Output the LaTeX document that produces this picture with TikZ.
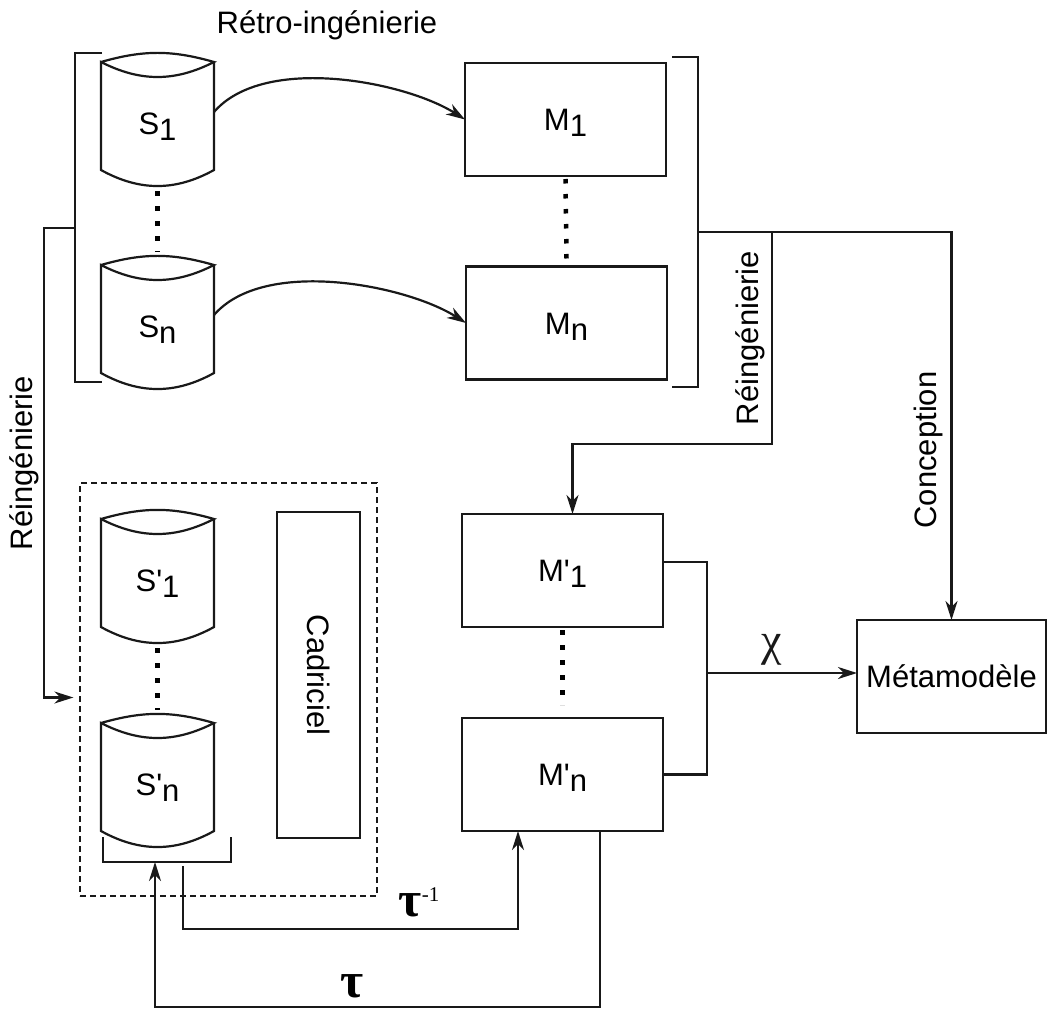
\documentclass[tikz,border=0pt]{standalone}
\usepackage{fontspec}
\setmainfont{Liberation Sans}
\newfontfamily\grk{Liberation Serif}
\usetikzlibrary{arrows.meta}

\newcommand{\lowix}[1]{\raisebox{-6pt}{#1}}
\newcommand{\prm}{\textquotesingle}
\newcommand{\drum}[1]{%
  \draw[wire] (#1.north west) to[bend left=16] (#1.north east)
    to[bend left=27] (#1.north west) -- ([yshift=14pt]#1.south west)
    to[bend right=29] ([yshift=14pt]#1.south east) -- (#1.north east);}

\tikzset{
  wire/.style={line width=2.2pt, black!90},
  conn/.style={wire, -{Stealth[length=19pt,width=12pt,inset=6pt]}},
  model/.style={draw, black!90, text=black, line width=2.2pt, minimum width=201pt, minimum height=113pt,
    inner sep=0pt, outer sep=0pt, text height=22pt, text depth=0pt},
  drumbody/.style={minimum width=113pt, minimum height=122pt, inner sep=0pt, outer sep=0pt,
    text height=22pt, text depth=0pt},
  dotrow/.style={black, line width=4.5pt, dash pattern=on 4.5pt off 10.5pt},
}

\begin{document}
\begin{tikzpicture}[x=1pt,y=-1pt,every node/.style={font=\fontsize{31}{36}\selectfont}]
  \useasboundingbox (0,0) rectangle (1049,1009);

  \node[drumbody] (S1) at (157.5,123) {S\lowix{1}};
  \node[drumbody] (Sn) at (157.5,326) {S\lowix{n}};
  \drum{S1} \drum{Sn}
  \draw[dotrow] ([yshift=-7pt]S1.south) -- ([yshift=13pt]Sn.north);

  \node[model] (M1) at (565.5,119.5) {M\lowix{1}};
  \node[model] (Mn) at (566.5,323) {M\lowix{n}};
  \draw[dotrow] ([yshift=-3pt]M1.south) -- ([yshift=8pt]Mn.north);

  \draw[wire] (102,53) -- (75,53) -- (75,382) -- (102,382);
  \coordinate (brkS) at (75,228);
  \draw[wire] (672,57) -- (698,57) -- (698,387) -- (672,387);
  \coordinate (brkM) at (698,232);

  \node (retro) at (327,25) {Rétro-ingénierie};
  \draw[conn] (S1.11) .. controls +(50,-58) and +(-60,-38) .. (M1.west);
  \draw[conn] (Sn.11) .. controls +(50,-58) and +(-60,-38) .. (Mn.west);

  \node[draw, black!90, dash pattern=on 6pt off 4pt, line width=1.3pt, minimum width=297pt, minimum height=413pt] (frame) at (228.5,689.5) {};
  \node[drumbody] (Sp1) at (157.5,580) {S\prm\lowix{1}};
  \node[drumbody] (Spn) at (157.5,784) {S\prm\lowix{n}};
  \drum{Sp1} \drum{Spn}
  \draw[dotrow] ([yshift=-7pt]Sp1.south) -- ([yshift=13pt]Spn.north);
  \node[draw, black!90, text=black, line width=2.2pt, rotate=-90, minimum width=326pt, minimum height=83pt] (cad) at (318.5,675) {Cadriciel};
  \draw[wire] (103,837) -- (103,862) -- (231,862) -- (231,837);
  \coordinate (tauin) at (155,862);
  \coordinate (tauout) at (183,866);

  \node[model] (Mp1) at (562.5,570.5) {M\prm\lowix{1}};
  \node[model] (Mpn) at (562.5,774.5) {M\prm\lowix{n}};
  \draw[dotrow] ([yshift=-3pt]Mp1.south) -- ([yshift=13pt]Mpn.north);

  \node[model, minimum width=189pt] (meta) at (951.5,676.5) {Métamodèle};

  \node[rotate=90] (reingL) at (24,463) {Réingénierie};
  \draw[conn, shorten >=6pt] (brkS) -- (44,228) |- ([yshift=-8pt]frame.west);

  \node[rotate=90] (reingR) at (750,338) {Réingénierie};
  \draw[conn] (brkM) -| (772,444) -| ([xshift=10pt]Mp1.north);

  \node[rotate=90] (concep) at (928,450) {Conception};
  \draw[conn] (brkM) -| (meta.north);

  \coordinate (junc) at (707,673);
  \draw[wire] (Mp1.5) -| (junc) |- (Mpn.east);
  \draw[conn] (junc) -- node[pos=0.43, above=3pt, font=\grk\fontsize{46}{48}\selectfont] {χ} (junc -| meta.west);

  \node[font=\grk\bfseries\fontsize{50}{54}\selectfont] (tinv) at (419,902) {τ\raisebox{15pt}{\mdseries\fontsize{21}{21}\selectfont -1}};
  \draw[conn] (tauout) -- (183,929) -| ([xshift=-44.5pt]Mpn.south);

  \node[font=\grk\bfseries\fontsize{50}{54}\selectfont] (tau) at (352,986) {τ};
  \draw[conn] ([xshift=37.5pt]Mpn.south) -- (600,1007) -| (tauin);
\end{tikzpicture}
\end{document}
